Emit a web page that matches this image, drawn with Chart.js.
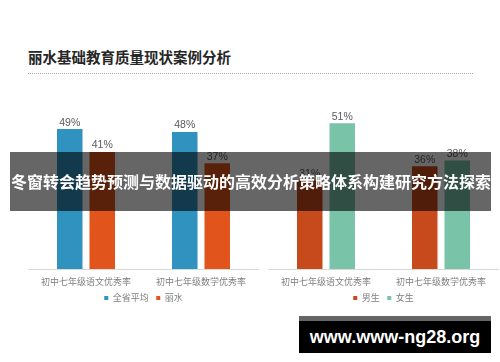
<!DOCTYPE html>
<html>
<head>
<meta charset="utf-8">
<script src="https://cdn.jsdelivr.net/npm/chart.js@4/dist/chart.umd.min.js"></script>
<style>
  html, body { margin: 0; padding: 0; background: #fff; }
  body { width: 500px; height: 362px; position: relative; overflow: hidden;
         font-family: "Noto Sans CJK SC", "Noto Sans", sans-serif; }
  #title { position: absolute; left: 28px; top: 47px; font-size: 14.5px; font-weight: 700;
           color: #262626; line-height: 20px; white-space: nowrap; }
  #rule { position: absolute; left: 28px; top: 73px; width: 445px; height: 0;
          border-top: 1px dotted #a6a6a6; }
  .box { position: absolute; }
  #leftBox { left: 0; top: 0; width: 262px; height: 362px; }
  #rightBox { left: 262px; top: 0; width: 238px; height: 362px; }
  #band { position: absolute; left: 10px; top: 152px; width: 481px; height: 59px;
          background: rgba(0,0,0,0.6); color: #fff; font-weight: 700; font-size: 16px;
          line-height: 59px; white-space: nowrap; overflow: hidden; }
  #band span { position: absolute; left: 1px; top: 0; }
  #markStrip { position: absolute; left: 299px; top: 316px; width: 192px; height: 5px; background: #666; }
  #mark { position: absolute; left: 299px; top: 321px; width: 192px; height: 32px; background: #000;
          color: #fff; font-family: "Liberation Sans", Arial, sans-serif; font-weight: 700;
          font-size: 18px; line-height: 32px; text-align: center; }
</style>
</head>
<body>
<div id="title">丽水基础教育质量现状案例分析</div>
<div id="rule"></div>
<div class="box" id="leftBox"><canvas id="leftChart"></canvas></div>
<div class="box" id="rightBox"><canvas id="rightChart"></canvas></div>
<div id="band"><span>冬窗转会趋势预测与数据驱动的高效分析策略体系构建研究方法探索</span></div>
<div id="markStrip"></div>
<div id="mark">www.www-ng28.org</div>

<script>
// Subjects shown on both charts
const categories = ['初中七年级语文优秀率', '初中七年级数学优秀率'];

// Region comparison (percent)
const provinceAvg = [49, 48];
const lishui = [41, 37];

// Gender comparison (percent)
const boys = [31, 36];
const girls = [51, 38];

const cjk = '"Noto Sans CJK SC", "Noto Sans", sans-serif';

// Writes the value with a % sign above every bar
const valueLabels = {
  id: 'valueLabels',
  afterDatasetsDraw(chart) {
    const ctx = chart.ctx;
    ctx.save();
    ctx.font = '10.5px "Liberation Sans", Arial, sans-serif';
    ctx.fillStyle = '#595959';
    ctx.textAlign = 'center';
    ctx.textBaseline = 'alphabetic';
    chart.data.datasets.forEach((ds, i) => {
      chart.getDatasetMeta(i).data.forEach((bar, j) => {
        ctx.fillText(ds.data[j] + '%', bar.x, bar.y - 3.5);
      });
    });
    ctx.restore();
  }
};

function makeChart(id, sets, padLeft, padRight) {
  return new Chart(document.getElementById(id), {
    type: 'bar',
    data: {
      labels: categories,
      datasets: sets.map(s => ({
        label: s.label,
        data: s.data,
        backgroundColor: s.color,
        borderWidth: 0,
        categoryPercentage: 0.565,
        barPercentage: 0.785
      }))
    },
    options: {
      responsive: true,
      maintainAspectRatio: false,
      animation: false,
      // plot area spans y 97.6..269 of the 362px canvas
      layout: { padding: { left: padLeft, right: padRight, top: 97.6, bottom: 49.5 } },
      scales: {
        x: {
          grid: { display: false, drawTicks: false },
          border: { display: true, color: '#d9d9d9', width: 1 },
          ticks: { color: '#7f7f7f', font: { family: cjk, size: 9, lineHeight: 1 },
                   padding: 8.5, maxRotation: 0, autoSkip: false },
          afterFit(scale) { scale.height = 17; }
        },
        y: { display: false, min: 0, max: 60 }
      },
      plugins: {
        legend: {
          position: 'bottom',
          labels: { boxWidth: 4, boxHeight: 4, padding: 7.5, color: '#7f7f7f',
                    font: { family: cjk, size: 9, lineHeight: 1 } }
        },
        tooltip: { enabled: false }
      }
    },
    plugins: [valueLabels]
  });
}

makeChart('leftChart', [
  { label: '全省平均', data: provinceAvg, color: '#2f92bf' },
  { label: '丽水', data: lishui, color: '#e1541b' }
], 28.5, 3.5);

makeChart('rightChart', [
  { label: '男生', data: boys, color: '#c64a1b' },
  { label: '女生', data: girls, color: '#79c3a9' }
], 6.5, 1.5);
</script>
</body>
</html>
